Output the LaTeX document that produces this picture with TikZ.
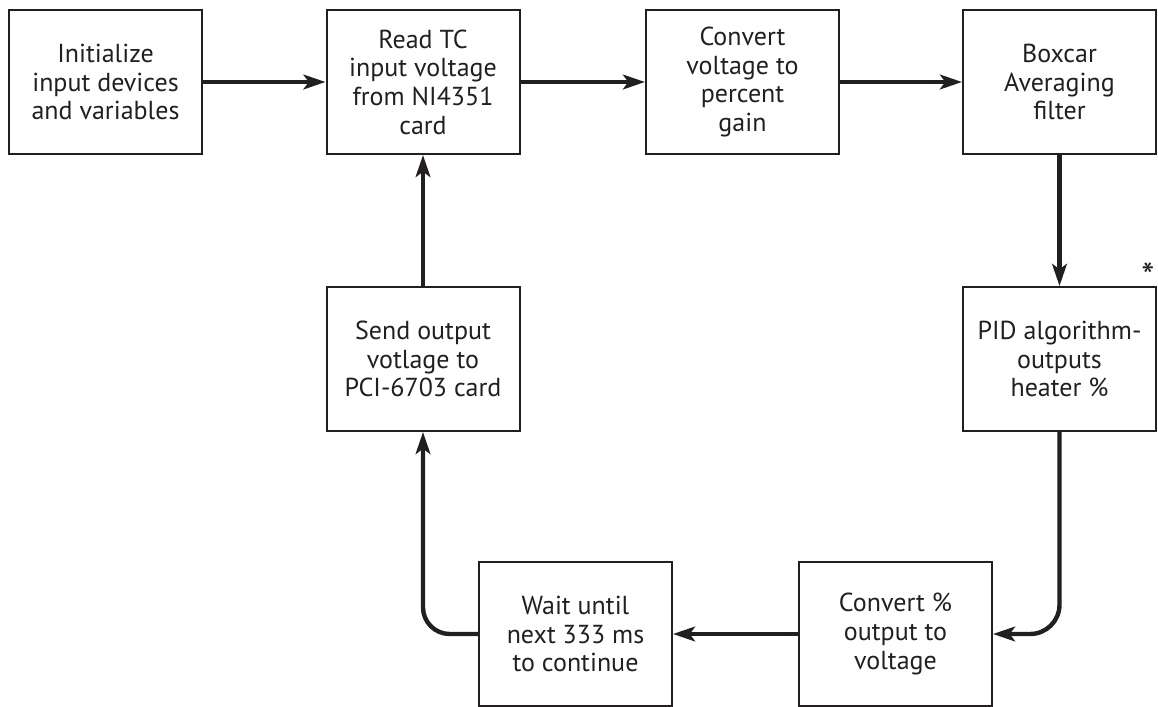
\documentclass[tikz,border=0pt]{standalone}
\usepackage{fontspec}
\setmainfont{PT Sans}
\usetikzlibrary{arrows.meta}
\definecolor{ink}{HTML}{231F20}

\begin{document}
\begin{tikzpicture}[x=0.75pt,y=0.75pt,yscale=-1,color=ink,
    blk/.style={draw, line width=1.5pt, minimum width=144.75pt, minimum height=108pt, inner sep=0pt, align=center, font=\fontsize{19.5pt}{21.5pt}\selectfont},
    arr/.style={line width=3.3pt, -{Stealth[length=16.5pt,width=11pt,inset=4pt]}}]
    %set diagram size to 1158 x 707
    \useasboundingbox (0,0) rectangle (1158,707);

    %Shape: Rectangle (top row)
    \node [blk] (init) at (105.5,82) {Initialize\\input devices\\and variables};
    \node [blk] (readtc) at (423,82) {Read TC\\input voltage\\from NI4351\\card};
    \node [blk] (convgain) at (742.5,82) {Convert\\voltage to\\percent\\gain};
    \node [blk] (boxcar) at (1059.5,82) {Boxcar\\Averaging\\filter};
    %Shape: Rectangle (middle row)
    \node [blk] (send) at (423,359) {Send output\\votlage to\\PCI-6703 card};
    \node [blk] (pid) at (1059.5,359) {PID algorithm-\\outputs\\heater \%};
    %Shape: Rectangle (bottom row)
    \node [blk] (wait) at (575.5,634) {Wait until\\next 333 ms\\to continue};
    \node [blk] (convvolt) at (895.5,634) {Convert \%\\output to\\voltage};

    %Straight Lines
    \draw [arr] (init) -- (readtc);
    \draw [arr] (readtc) -- (convgain);
    \draw [arr] (convgain) -- (boxcar);
    \draw [arr] (boxcar) -- (pid);
    \draw [arr] (convvolt) -- (wait);
    \draw [arr] (send) -- (readtc);
    %Curve Lines
    \draw [arr, rounded corners=22pt] (pid.south) |- (convvolt.east);
    \draw [arr, rounded corners=20pt] (wait.west) -| (send.south);

    % Text Node
    \node (star) at (1148,276) {\fontsize{28pt}{30pt}\selectfont *};
\end{tikzpicture}
\end{document}
